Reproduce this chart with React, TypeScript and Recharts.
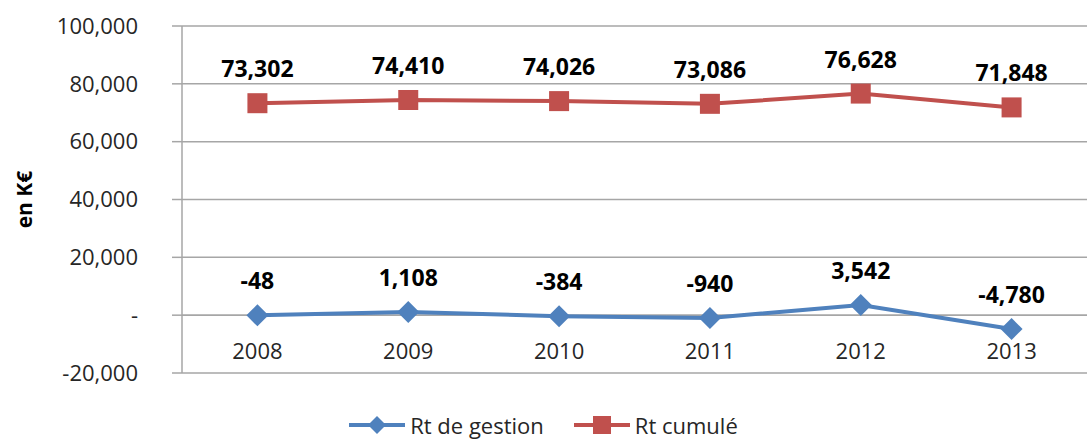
import { LineChart, Line, XAxis, YAxis, CartesianGrid, ReferenceLine, LabelList, Legend } from "recharts";

const years = ["2008", "2009", "2010", "2011", "2012", "2013"];
const rtGestion = [-48, 1108, -384, -940, 3542, -4780];
const rtCumule = [73302, 74410, 74026, 73086, 76628, 71848];
const yTicks = [-20000, 0, 20000, 40000, 60000, 80000, 100000];

const BLUE = "#4f81bd";
const RED = "#c0504d";
const GRID = "#a6a6a6";
const FONT = "'Open Sans', sans-serif";

const data = years.map((y, i) => ({ year: y, gestion: rtGestion[i], cumule: rtCumule[i] }));

const fmt = (v: number) => (v === 0 ? "-" : v.toLocaleString("en-US"));

function Diamond(props: any) {
  const { cx, cy } = props;
  if (cx == null || cy == null) return null;
  const r = 11;
  return <polygon points={`${cx},${cy - r} ${cx + r},${cy} ${cx},${cy + r} ${cx - r},${cy}`} fill={BLUE} />;
}

function Square(props: any) {
  const { cx, cy } = props;
  if (cx == null || cy == null) return null;
  return <rect x={cx - 10} y={cy - 10} width={20} height={20} fill={RED} />;
}

function ValueLabel(props: any) {
  const { x, y, width, value } = props;
  return (
    <text x={x + (width || 0) / 2} y={y - 35} textAnchor="middle" dominantBaseline="central" fontFamily={FONT} fontWeight={700} fontSize={23} fill="#000">
      {fmt(value)}
    </text>
  );
}

function YearTick(props: any) {
  const { x, y, payload } = props;
  return (
    <text x={x} y={y - 31} textAnchor="middle" dominantBaseline="central" fontFamily={FONT} fontSize={22} fill="#262626">
      {payload.value}
    </text>
  );
}

function LegendContent() {
  const item = (color: string, marker: "diamond" | "square", label: string) => (
    <div style={{ display: "flex", alignItems: "center", marginRight: 30 }}>
      <svg width={56} height={20}>
        <line x1={0} y1={10} x2={56} y2={10} stroke={color} strokeWidth={4} />
        {marker === "diamond" ? (
          <polygon points="28,1 37,10 28,19 19,10" fill={color} />
        ) : (
          <rect x={19} y={1} width={18} height={18} fill={color} />
        )}
      </svg>
      <span style={{ marginLeft: 5, fontFamily: FONT, fontSize: 22, lineHeight: "26px", color: "#262626" }}>{label}</span>
    </div>
  );
  return (
    <div style={{ display: "flex", justifyContent: "center", paddingTop: 9, paddingLeft: 30 }}>
      {item(BLUE, "diamond", "Rt de gestion")}
      {item(RED, "square", "Rt cumulé")}
    </div>
  );
}

export default function App() {
  return (
    <div style={{ position: "absolute", left: 0, top: 0, width: 1087, height: 439, background: "#fff", overflow: "hidden" }}>
      <LineChart width={1087} height={439} data={data} margin={{ top: 26, right: 0, left: 0, bottom: 0 }}>
        <CartesianGrid vertical={false} stroke={GRID} strokeWidth={1.5} />
        <XAxis dataKey="year" scale="band" height={30} axisLine={false} tickLine={false} tick={<YearTick />} interval={0} />
        <YAxis
          width={182}
          domain={[-20000, 100000]}
          ticks={yTicks}
          tickFormatter={fmt}
          axisLine={{ stroke: GRID, strokeWidth: 1.5 }}
          tickLine={{ stroke: GRID, strokeWidth: 1.5 }}
          tickSize={10}
          tickMargin={34}
          tick={{ fontFamily: FONT, fontSize: 22, fill: "#262626" }}
          label={{
            content: (p: any) => {
              const vb = p.viewBox;
              const cx = 24;
              const cy = vb.y + vb.height / 2;
              return (
                <text x={cx} y={cy} transform={`rotate(-90 ${cx} ${cy})`} textAnchor="middle" dominantBaseline="central" fontFamily={FONT} fontWeight={700} fontSize={21} fill="#000">
                  en K€
                </text>
              );
            },
          }}
        />
        <ReferenceLine y={0} stroke={GRID} strokeWidth={1.5} />
        <Legend verticalAlign="bottom" height={36} content={<LegendContent />} />
        <Line dataKey="gestion" name="Rt de gestion" stroke={BLUE} strokeWidth={4} dot={<Diamond />} activeDot={false} isAnimationActive={false}>
          <LabelList dataKey="gestion" content={<ValueLabel />} />
        </Line>
        <Line dataKey="cumule" name="Rt cumulé" stroke={RED} strokeWidth={4} dot={<Square />} activeDot={false} isAnimationActive={false}>
          <LabelList dataKey="cumule" content={<ValueLabel />} />
        </Line>
      </LineChart>
    </div>
  );
}
